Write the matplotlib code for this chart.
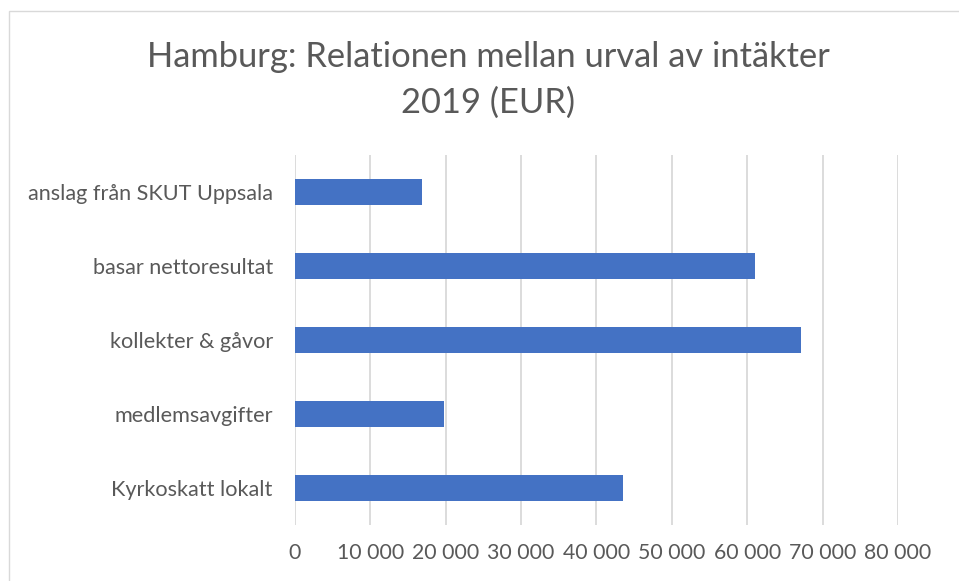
import matplotlib.pyplot as plt
from matplotlib.patches import Rectangle
from matplotlib.ticker import FuncFormatter

plt.rcParams['font.family'] = ['Lato', 'DejaVu Sans']

categories = ['Kyrkoskatt lokalt', 'medlemsavgifter', 'kollekter & gåvor',
              'basar nettoresultat', 'anslag från SKUT Uppsala']
values = [43500, 19800, 67100, 61000, 16800]
xticks = [0, 10000, 20000, 30000, 40000, 50000, 60000, 70000, 80000]

text_col = '#595959'
grid_col = '#d9d9d9'
bar_col = '#4472c4'

fig = plt.figure(figsize=(9.59, 5.81), dpi=100)
ax = fig.add_axes([0.3076, 0.0964, 0.6288, 0.6368])

ax.barh(range(len(categories)), values, height=0.355, color=bar_col, zorder=3)
ax.set_xlim(0, 80000)
ax.set_ylim(-0.5, len(categories) - 0.5)
ax.set_xticks(xticks)
ax.xaxis.set_major_formatter(FuncFormatter(lambda v, p: f'{int(v):,}'.replace(',', ' ')))
ax.set_yticks(range(len(categories)))
ax.set_yticklabels(categories)
ax.grid(axis='x', color=grid_col, linewidth=1.3, zorder=0)
for s in ax.spines.values():
    s.set_visible(False)
ax.tick_params(axis='y', length=0, colors=text_col, labelsize=15.6, pad=16)
ax.tick_params(axis='x', length=0, colors=text_col, labelsize=15.3, pad=13)

fig.text(0.509, 0.902, 'Hamburg: Relationen mellan urval av intäkter', ha='center', va='center',
         fontsize=24.8, color=text_col)
fig.text(0.509, 0.823, '2019 (EUR)', ha='center', va='center', fontsize=24.8, color=text_col)

# chart frame like the spreadsheet export
fig.patches.append(Rectangle((8.5 / 959, -0.1), 1.2, 1.1 - 10.5 / 581, transform=fig.transFigure,
                             fill=False, edgecolor='#d9d9d9', linewidth=1))

fig.savefig('out.png', dpi=100)
